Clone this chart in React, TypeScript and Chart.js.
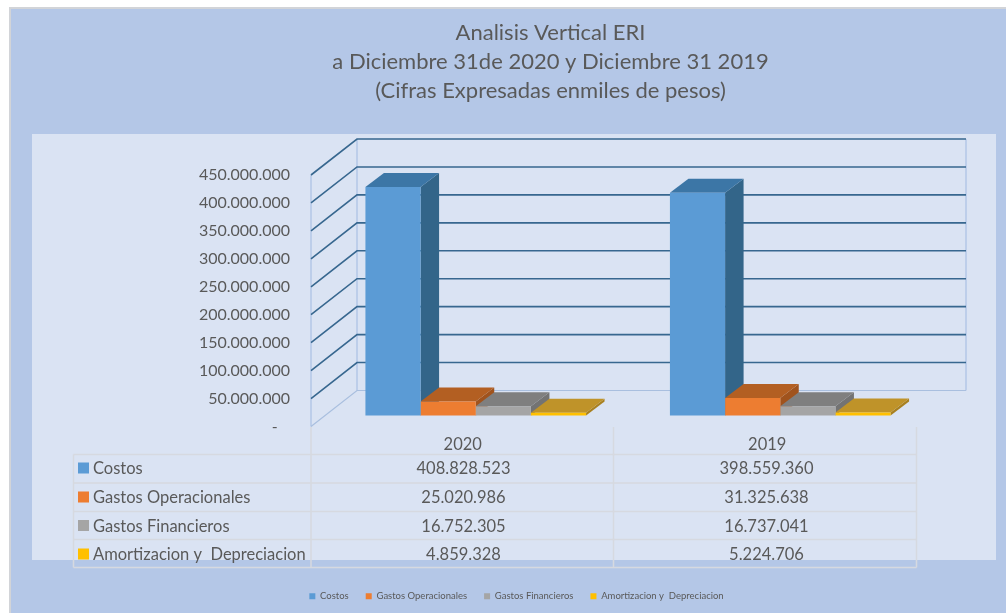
import React, { useEffect, useRef } from "react";
import { Chart, registerables } from "chart.js";

Chart.register(...registerables);

const titleLines = [
  "Analisis Vertical ERI",
  "a Diciembre 31de 2020 y Diciembre 31 2019",
  "(Cifras Expresadas enmiles de pesos)",
];
const years = ["2020", "2019"];
const seriesNames = ["Costos", "Gastos Operacionales", "Gastos Financieros", "Amortizacion y  Depreciacion"];
const costos = [408828523, 398559360];
const gastosOperacionales = [25020986, 31325638];
const gastosFinancieros = [16752305, 16737041];
const amortizacion = [4859328, 5224706];
const frontColors = ["#5b9bd5", "#ed7d31", "#a5a5a5", "#ffc000"];
const topColors = ["#3c76a6", "#b35f22", "#7f7f7f", "#bf9329"];
const sideColors = ["#336589", "#a0531d", "#737373", "#a8801f"];

const allSeries = [costos, gastosOperacionales, gastosFinancieros, amortizacion];
const TEXT = "#595959";
const FONT = "Lato";
const fmt = (v: number) => String(Math.round(v)).replace(/\B(?=(\d{3})+(?!\d))/g, ".");

const BAR_DX = 11.5, BAR_DY = -11;
const DEPTH_X = 18.5, DEPTH_Y = -14;
const BACK_DX = 46, BACK_DY = -36;
const BACK_RIGHT = 966;
const tableX = { left: 73.5, c1: 311, c2: 613.5, right: 916.5 };
const rowLines = [454.5, 483, 511.5, 539.5, 567.5];
const rowText = [469, 498, 526.5, 555];
const colText = [463.5, 766.5];

const poly = (ctx: CanvasRenderingContext2D, pts: number[][], color: string) => {
  ctx.beginPath();
  pts.forEach((p, i) => (i ? ctx.lineTo(p[0], p[1]) : ctx.moveTo(p[0], p[1])));
  ctx.closePath();
  ctx.fillStyle = color;
  ctx.fill();
};

const scenePlugin = {
  id: "scene",
  afterLayout(chart: any) {
    const t = chart.titleBlock;
    t.left += 90; t.right += 90;
    const l = chart.legend;
    l.left += 56; l.right += 56; l.top -= 2; l.bottom -= 2;
  },
  beforeDraw(chart: any) {
    const { ctx, width, height } = chart;
    ctx.save();
    ctx.fillStyle = "#ffffff";
    ctx.fillRect(0, 0, width, height);
    ctx.fillStyle = "#d2d4d8";
    ctx.fillRect(9, 7, width - 9, height - 7);
    ctx.fillStyle = "#b4c7e7";
    ctx.fillRect(11, 9, width - 11, height - 9);
    ctx.fillStyle = "#dae3f3";
    ctx.fillRect(32, 134, 964, 426);
    ctx.restore();
  },
  beforeDatasetsDraw(chart: any) {
    const { ctx, scales } = chart;
    const y = scales.y;
    const front = scales.x.left - 1;
    const back = front + BACK_DX;
    ctx.save();
    // walls
    ctx.strokeStyle = "#b4c7e7";
    ctx.lineWidth = 1.5;
    ctx.beginPath();
    ctx.moveTo(front, y.getPixelForValue(450000000));
    ctx.lineTo(front, y.getPixelForValue(0));
    ctx.moveTo(back, y.getPixelForValue(450000000) + BACK_DY);
    ctx.lineTo(back, y.getPixelForValue(0) + BACK_DY);
    ctx.moveTo(BACK_RIGHT, y.getPixelForValue(450000000) + BACK_DY);
    ctx.lineTo(BACK_RIGHT, y.getPixelForValue(0) + BACK_DY);
    ctx.stroke();
    // grid lines, from the axis ticks
    y.ticks.forEach((tick: any) => {
      const py = y.getPixelForValue(tick.value);
      const isZero = tick.value === 0;
      ctx.strokeStyle = isZero ? "#a9bfdf" : "#37678f";
      ctx.lineWidth = isZero ? 1.2 : 1.6;
      ctx.beginPath();
      ctx.moveTo(front, py);
      ctx.lineTo(back, py + BACK_DY);
      ctx.lineTo(BACK_RIGHT, py + BACK_DY);
      ctx.stroke();
    });
    // depth faces, series by series
    chart.data.datasets.forEach((_: any, i: number) => {
      chart.getDatasetMeta(i).data.forEach((bar: any) => {
        const p = bar.getProps(["x", "y", "base", "width"], true);
        const l = p.x - p.width / 2 + BAR_DX;
        const r = p.x + p.width / 2 + BAR_DX;
        const t = p.y + BAR_DY;
        const b = p.base + BAR_DY;
        poly(ctx, [[r, t], [r + DEPTH_X, t + DEPTH_Y], [r + DEPTH_X, b + DEPTH_Y], [r, b]], sideColors[i]);
        poly(ctx, [[l, t], [l + DEPTH_X, t + DEPTH_Y], [r + DEPTH_X, t + DEPTH_Y], [r, t]], topColors[i]);
      });
    });
    ctx.restore();
    ctx.save();
    ctx.translate(BAR_DX, BAR_DY);
  },
  afterDatasetsDraw(chart: any) {
    const { ctx } = chart;
    ctx.restore();
    ctx.save();
    // data table
    ctx.strokeStyle = "#d6d9e0";
    ctx.lineWidth = 1.5;
    ctx.beginPath();
    rowLines.forEach((ly) => {
      ctx.moveTo(tableX.left, ly);
      ctx.lineTo(tableX.right, ly);
    });
    ctx.moveTo(tableX.left, rowLines[0]);
    ctx.lineTo(tableX.left, rowLines[4]);
    [tableX.c1, tableX.c2, tableX.right].forEach((lx) => {
      ctx.moveTo(lx, 427);
      ctx.lineTo(lx, rowLines[4]);
    });
    ctx.stroke();
    ctx.font = `16.5px ${FONT}`;
    ctx.fillStyle = TEXT;
    ctx.textBaseline = "middle";
    seriesNames.forEach((name, i) => {
      ctx.fillStyle = frontColors[i];
      ctx.fillRect(78, rowText[i] - 6.5, 11, 11);
      ctx.fillStyle = TEXT;
      ctx.textAlign = "left";
      ctx.fillText(name, 93, rowText[i]);
      ctx.textAlign = "center";
      allSeries[i].forEach((v, c) => ctx.fillText(fmt(v), colText[c], rowText[i]));
    });
    ctx.restore();
  },
};

export default function App() {
  const ref = useRef<HTMLCanvasElement>(null);
  useEffect(() => {
    document.body.style.margin = "0";
    document.body.style.overflow = "hidden";
    const chart = new Chart(ref.current as HTMLCanvasElement, {
      type: "bar",
      data: {
        labels: years,
        datasets: seriesNames.map((name, i) => ({
          label: name,
          data: allSeries[i],
          backgroundColor: frontColors[i],
          borderWidth: 0,
          barPercentage: 1,
          categoryPercentage: 0.7246,
          clip: false,
        })),
      } as any,
      options: {
        responsive: false,
        animation: false,
        layout: { padding: { right: 85 } },
        font: { family: FONT },
        plugins: {
          title: {
            display: true,
            text: titleLines,
            color: TEXT,
            font: { family: FONT, size: 22, weight: "normal", lineHeight: 29 / 22 },
            padding: { top: 18, bottom: 70 },
          },
          legend: {
            position: "bottom",
            labels: {
              boxWidth: 6,
              boxHeight: 6,
              padding: 17,
              color: TEXT,
              font: { family: FONT, size: 9.5 },
            },
          },
          tooltip: { enabled: false },
        },
        scales: {
          x: {
            grid: { display: false },
            border: { display: false },
            ticks: { color: TEXT, font: { family: FONT, size: 16.5 }, padding: 0, labelOffset: -1.5, maxRotation: 0 },
            afterFit: (s: any) => { s.height = 150; },
          },
          y: {
            min: 0,
            max: 450000000,
            grid: { display: false, drawTicks: false },
            border: { display: false },
            ticks: {
              stepSize: 50000000,
              color: TEXT,
              padding: 22,
              font: { family: FONT, size: 16 },
              callback: (v: any) => (Number(v) === 0 ? "-   " : fmt(Number(v))),
            },
            afterFit: (s: any) => { s.width = 312; },
          },
        },
      } as any,
      plugins: [scenePlugin as any],
    });
    return () => chart.destroy();
  }, []);
  return <canvas ref={ref} width={1006} height={613} style={{ display: "block", width: 1006, height: 613 }} />;
}
